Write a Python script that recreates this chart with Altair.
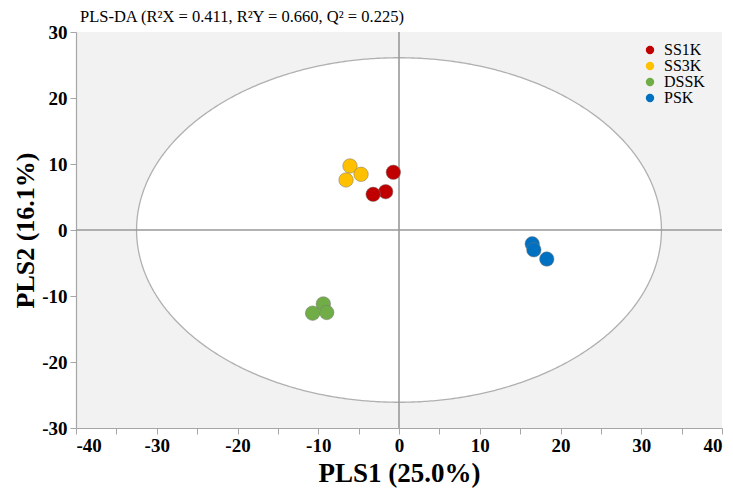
import altair as alt
import numpy as np
import pandas as pd

groups = ["SS1K", "SS1K", "SS1K", "SS3K", "SS3K", "SS3K",
          "DSSK", "DSSK", "DSSK", "PSK", "PSK", "PSK"]
pls1 = [-0.7, -1.65, -3.2, -6.07, -4.7, -6.56, -9.37, -10.7, -8.95, 16.5, 16.7, 18.3]
pls2 = [8.74, 5.8, 5.4, 9.7, 8.44, 7.58, -11.2, -12.6, -12.5, -2.1, -3.0, -4.4]
group_order = ["SS1K", "SS3K", "DSSK", "PSK"]
group_colors = ["#c00000", "#ffc000", "#70ad47", "#0070c0"]

ellipse_a = 32.5
ellipse_b = 26.1

x_ticks = list(range(-40, 41, 5))
y_ticks = list(range(-30, 31, 5))

pts = pd.DataFrame({"PLS1": pls1, "PLS2": pls2, "group": groups})

t = np.linspace(-1, 1, 401)
ex = ellipse_a * np.sin(t * np.pi / 2)
ey = ellipse_b * np.sqrt(np.clip(1 - (ex / ellipse_a) ** 2, 0, None))
ell_area = pd.DataFrame({"x": ex, "top": ey, "bot": -ey})
th = np.linspace(0, 2 * np.pi, 721)
ell_line = pd.DataFrame({"x": ellipse_a * np.cos(th), "y": ellipse_b * np.sin(th), "o": np.arange(721)})

xs = alt.Scale(domain=[-40, 40], nice=False, zero=False)
ys = alt.Scale(domain=[-30, 30], nice=False, zero=False)

lab_expr = "datum.value % 10 === 0 ? datum.value : ''"
xaxis = alt.Axis(values=x_ticks, labelExpr=lab_expr, grid=False, labelOverlap=False,
                 domainColor="#a6a6a6", tickColor="#a6a6a6", tickSize=6, domainWidth=1.2,
                 labelFont="Liberation Serif", labelFontWeight="bold", labelFontSize=19,
                 labelColor="black", labelPadding=2,
                 title="PLS1 (25.0%)", titleFont="Liberation Serif", titleFontWeight="bold",
                 titleFontSize=27, titleColor="black", titlePadding=5)
yaxis = alt.Axis(values=y_ticks, labelExpr=lab_expr, grid=False, labelOverlap=False,
                 domainColor="#a6a6a6", tickColor="#a6a6a6", tickSize=6, domainWidth=1.2,
                 labelFont="Liberation Serif", labelFontWeight="bold", labelFontSize=19,
                 labelColor="black", labelPadding=3,
                 title="PLS2 (16.1%)", titleFont="Liberation Serif", titleFontWeight="bold",
                 titleFontSize=26, titleColor="black", titlePadding=3)

area = alt.Chart(ell_area).mark_area(color="white", opacity=1).encode(
    x=alt.X("x:Q", scale=xs, axis=xaxis),
    y=alt.Y("top:Q", scale=ys, axis=yaxis),
    y2="bot:Q",
)
outline = alt.Chart(ell_line).mark_line(color="#b0b0b0", strokeWidth=1.3).encode(
    x=alt.X("x:Q", scale=xs), y=alt.Y("y:Q", scale=ys), order="o:Q"
)
zero = pd.DataFrame({"v": [0]})
vrule = alt.Chart(zero).mark_rule(color="#999999", strokeWidth=1.6).encode(x=alt.X("v:Q", scale=xs))
hrule = alt.Chart(zero).mark_rule(color="#999999", strokeWidth=1.6).encode(y=alt.Y("v:Q", scale=ys))

points = alt.Chart(pts).mark_circle(size=210, opacity=1, stroke="#777777", strokeWidth=0.5).encode(
    x=alt.X("PLS1:Q", scale=xs),
    y=alt.Y("PLS2:Q", scale=ys),
    color=alt.Color("group:N", scale=alt.Scale(domain=group_order, range=group_colors),
                    legend=alt.Legend(title=None, orient="none", legendX=566, legendY=10,
                                      labelFont="Liberation Serif", labelFontSize=16,
                                      labelColor="black", symbolType="circle", symbolSize=70,
                                      symbolStrokeWidth=0, rowPadding=0, labelOffset=6)),
)

chart = alt.layer(area, outline, vrule, hrule, points).properties(
    width=646, height=396,
    title=alt.TitleParams("PLS-DA (R²X = 0.411, R²Y = 0.660, Q² = 0.225)", anchor="start",
                          frame="group", font="Liberation Serif", fontSize=16.5,
                          fontWeight="normal", color="black", dx=4, dy=5, offset=3),
    autosize=alt.AutoSizeParams(type="none"),
    padding={"left": 68, "top": 24, "right": 3, "bottom": 61},
).configure_view(fill="#f2f2f2", stroke=None)

chart.save("out.html", embed_options={"renderer": "svg", "actions": False})
